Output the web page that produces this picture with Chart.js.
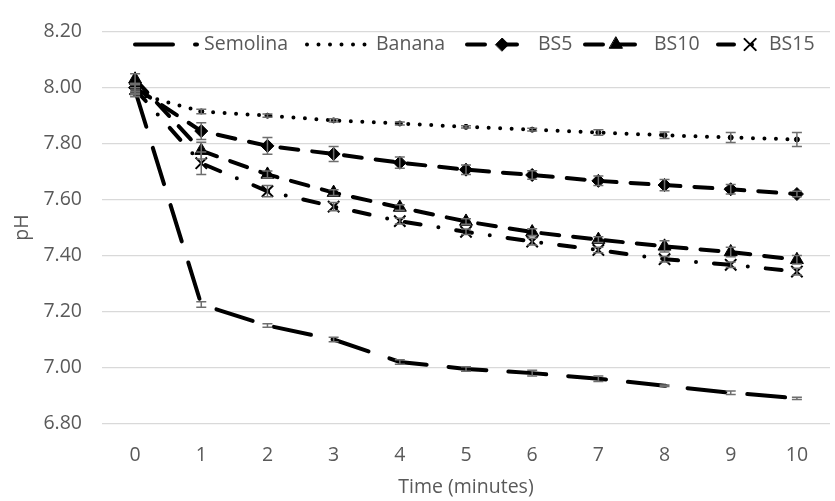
<!DOCTYPE html>
<html>
<head>
<meta charset="utf-8">
<script src="https://cdn.jsdelivr.net/npm/chart.js@4.4.1/dist/chart.umd.min.js"></script>
<style>
    body { margin: 0; background: #fff; overflow: hidden; }
    #wrap { width: 840px; height: 501px; }
</style>
</head>
<body>
<div id="wrap"><canvas id="myChart" width="840" height="501"></canvas></div>
<script>
// time points (minutes)
var timeLabels = ['0', '1', '2', '3', '4', '5', '6', '7', '8', '9', '10'];

// pH values
var semolina = [7.99, 7.225, 7.15, 7.10, 7.02, 6.995, 6.98, 6.96, 6.935, 6.91, 6.89];
var banana   = [7.98, 7.915, 7.90, 7.883, 7.872, 7.86, 7.85, 7.84, 7.83, 7.822, 7.815];
var bs5      = [8.00, 7.845, 7.792, 7.763, 7.732, 7.707, 7.688, 7.667, 7.652, 7.637, 7.62];
var bs10     = [8.03, 7.775, 7.69, 7.625, 7.572, 7.522, 7.484, 7.457, 7.433, 7.413, 7.385];
var bs15     = [7.995, 7.73, 7.63, 7.575, 7.523, 7.485, 7.45, 7.42, 7.387, 7.367, 7.343];

// standard deviations (error bars)
var semolinaErr = [0.01, 0.01, 0.006, 0.008, 0.008, 0.008, 0.01, 0.01, 0.003, 0.006, 0.004];
var bananaErr   = [0.012, 0.008, 0.006, 0.006, 0.005, 0.004, 0.005, 0.01, 0.012, 0.018, 0.025];
var bs5Err      = [0.015, 0.03, 0.03, 0.027, 0.02, 0.017, 0.015, 0.017, 0.02, 0.017, 0.01];
var bs10Err     = [0.02, 0.03, 0.012, 0.01, 0.01, 0.01, 0.012, 0.01, 0.02, 0.017, 0.015];
var bs15Err     = [0.02, 0.04, 0.02, 0.015, 0.01, 0.01, 0.012, 0.01, 0.01, 0.01, 0.012];

var seriesNames = ['Semolina', 'Banana', 'BS5', 'BS10', 'BS15'];
var yTicks = [6.8, 7.0, 7.2, 7.4, 7.6, 7.8, 8.0, 8.2];

var FONT = "'Open Sans', 'Noto Sans', sans-serif";
var TEXT = '#595959';

function makeSet(name, values, errs, dash, style, radius, order) {
    return {
        label: name,
        data: values,
        errors: errs,
        borderColor: '#000',
        backgroundColor: '#000',
        borderWidth: 4,
        borderDash: dash,
        borderCapStyle: 'round',
        pointStyle: style,
        pointRadius: radius,
        pointBorderWidth: style === 'crossRot' ? 2 : 1,
        pointHoverRadius: radius,
        tension: 0,
        order: order
    };
}

var errorBars = {
    id: 'errorBars',
    afterDatasetsDraw: function(chart) {
        var ctx = chart.ctx;
        var y = chart.scales.y;
        ctx.save();
        ctx.strokeStyle = '#6e6e6e';
        ctx.lineWidth = 1.5;
        ctx.setLineDash([]);
        chart.data.datasets.forEach(function(ds, i) {
            var meta = chart.getDatasetMeta(i);
            meta.data.forEach(function(pt, j) {
                var e = ds.errors[j];
                var top = y.getPixelForValue(ds.data[j] + e);
                var bot = y.getPixelForValue(ds.data[j] - e);
                ctx.beginPath();
                ctx.moveTo(pt.x, top); ctx.lineTo(pt.x, bot);
                ctx.moveTo(pt.x - 5, top); ctx.lineTo(pt.x + 5, top);
                ctx.moveTo(pt.x - 5, bot); ctx.lineTo(pt.x + 5, bot);
                ctx.stroke();
            });
        });
        ctx.restore();
    }
};

// excel style legend: line sample with marker, then the name
var lineLegend = {
    id: 'lineLegend',
    afterDraw: function(chart) {
        var ctx = chart.ctx;
        var starts = [135, 307, 467, 585, 718];
        var lens = [62, 62, 64, 62, 44];
        var markAt = [0.5, 0.5, 0.55, 0.5, 0.73];
        var ly = 44.5;
        ctx.save();
        ctx.font = '19.5px ' + FONT;
        ctx.textBaseline = 'middle';
        chart.data.datasets.forEach(function(ds, i) {
            var x0 = starts[i];
            var len = lens[i];
            ctx.beginPath();
            ctx.strokeStyle = '#000';
            ctx.lineWidth = 4;
            ctx.lineCap = 'round';
            ctx.setLineDash(ds.borderDash);
            ctx.moveTo(x0, ly);
            ctx.lineTo(x0 + len, ly);
            ctx.stroke();
            ctx.setLineDash([]);
            if (ds.pointRadius > 0 && ds.pointStyle !== 'circle') {
                ctx.fillStyle = '#000';
                ctx.lineWidth = ds.pointBorderWidth;
                Chart.helpers.drawPoint(ctx, {
                    pointStyle: ds.pointStyle,
                    radius: ds.pointRadius,
                    borderWidth: ds.pointBorderWidth,
                    rotation: 0
                }, x0 + len * markAt[i], ly);
            }
            ctx.fillStyle = TEXT;
            ctx.fillText(ds.label, x0 + len + 7, ly);
        });
        ctx.restore();
    }
};

var myChart = new Chart(document.getElementById('myChart'), {
    type: 'line',
    data: {
        labels: timeLabels,
        datasets: [
            makeSet(seriesNames[0], semolina, semolinaErr, [38, 22], 'circle', 0, 4),
            makeSet(seriesNames[1], banana, bananaErr, [0, 11.5], 'circle', 2.5, 3),
            makeSet(seriesNames[2], bs5, bs5Err, [18, 14], 'rectRot', 6.5, 2),
            makeSet(seriesNames[3], bs10, bs10Err, [18, 14], 'triangle', 7.5, 1),
            makeSet(seriesNames[4], bs15, bs15Err, [16, 18, 0, 18], 'crossRot', 8, 0)
        ]
    },
    plugins: [errorBars, lineLegend],
    options: {
        responsive: false,
        animation: false,
        devicePixelRatio: 1,
        layout: { padding: { left: 0, top: 23.5, right: 1.5, bottom: 0 } },
        plugins: {
            legend: { display: false },
            tooltip: { enabled: false }
        },
        scales: {
            x: {
                type: 'category',
                offset: true,
                grid: { display: false },
                border: { display: false },
                ticks: { color: TEXT, font: { family: FONT, size: 19.5 }, padding: 12, maxRotation: 0 },
                title: { display: true, text: 'Time (minutes)', color: TEXT, font: { family: FONT, size: 19.5 }, padding: { top: 0, bottom: 2 } },
                afterFit: function(scale) { scale.height = 77.5; }
            },
            y: {
                min: 6.8,
                max: 8.2,
                afterBuildTicks: function(scale) {
                    scale.ticks = yTicks.map(function(v) { return { value: v }; });
                },
                grid: { color: '#d9d9d9', lineWidth: 1.3, drawTicks: false },
                border: { display: false },
                ticks: {
                    color: TEXT,
                    font: { family: FONT, size: 19.5 },
                    padding: 20,
                    callback: function(v) { return Number(v).toFixed(2); }
                },
                title: { display: true, text: 'pH', color: TEXT, font: { family: FONT, size: 19.5 }, padding: { top: 11, bottom: 0 } },
                afterFit: function(scale) { scale.width = 102; }
            }
        }
    }
});
</script>
</body>
</html>
